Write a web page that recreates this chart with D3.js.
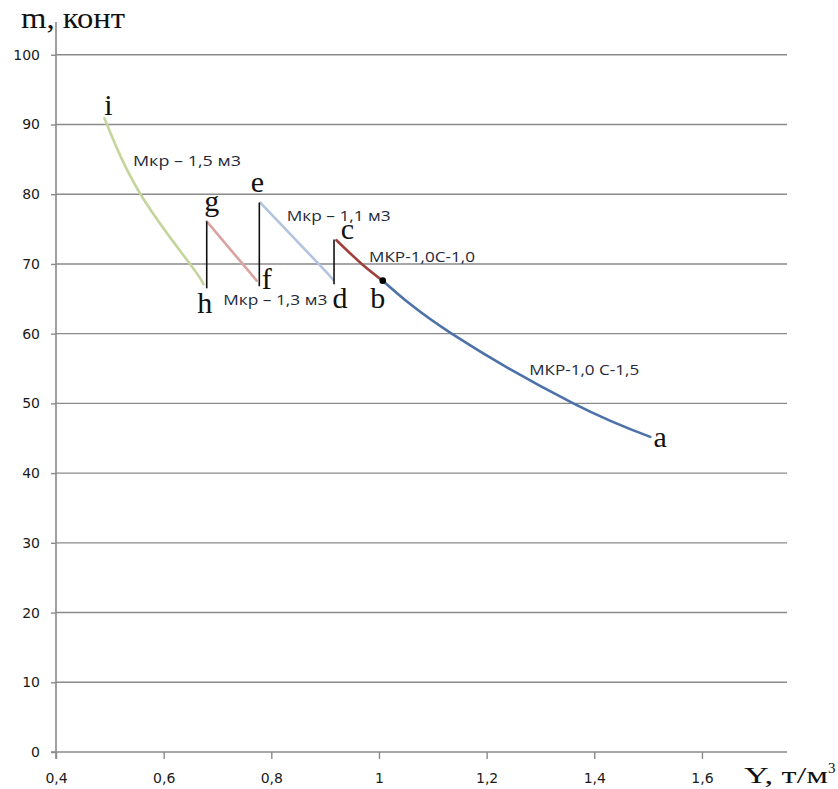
<!DOCTYPE html>
<html>
<head>
<meta charset="utf-8">
<script src="https://cdn.jsdelivr.net/npm/d3@7/dist/d3.min.js"></script>
<style>
  html, body { margin: 0; padding: 0; background: #fff; }
  svg { display: block; }
</style>
</head>
<body>
<svg id="chart" width="838" height="789"></svg>
<script>
// Axis ticks
const xTicks = [0.4, 0.6, 0.8, 1.0, 1.2, 1.4, 1.6];
const yTicks = [0, 10, 20, 30, 40, 50, 60, 70, 80, 90, 100];

// Curve segments: bulk density Y (t/m3) vs number of containers m
const curveIH_x = [0.490, 0.557, 0.649, 0.674];   // Мкр – 1,5 м3 (i → h)
const curveIH_y = [90.9, 80.0, 70.0, 67.1];
const curveGF_x = [0.680, 0.7467, 0.7728];        // Мкр – 1,3 м3 (g → f)
const curveGF_y = [76.1, 70.0, 67.6];
const curveED_x = [0.7795, 0.888, 0.915];         // Мкр – 1,1 м3 (e → d)
const curveED_y = [78.8, 70.0, 67.7];
const curveCB_x = [0.921, 0.968, 1.007];          // МКР-1,0 С-1,0 (c → b)
const curveCB_y = [73.4, 70.0, 67.6];
const curveBA_x = [1.007, 1.135, 1.361, 1.504];   // МКР-1,0 С-1,5 (b → a)
const curveBA_y = [67.6, 60.0, 50.0, 45.2];

// Vertical switch-over steps (x, y from, y to)
const stepX    = [0.680, 0.7777, 0.9165];
const stepYlow = [66.5, 66.8, 67.1];
const stepYtop = [76.1, 78.8, 73.5];

// Point letters and the values they mark
const pointNames = ["i", "g", "e", "c", "h", "f", "d", "b", "a"];
const pointX = [0.490, 0.680, 0.7777, 0.921, 0.680, 0.7728, 0.9165, 1.007, 1.504];
const pointY = [90.9, 76.1, 78.8, 73.4, 66.5, 67.6, 67.1, 67.6, 45.2];

// Curve captions
const captionText = ["Мкр – 1,5 м3", "Мкр – 1,1 м3", "Мкр – 1,3 м3", "МКР-1,0С-1,0", "МКР-1,0 С-1,5"];
const captionX = [0.543, 0.8286, 0.7108, 0.9815, 1.279];
const captionY = [84.1, 76.1, 64.1, 70.3, 54.1];

// ---- layout ----
const svg = d3.select("#chart");
const x = d3.scaleLinear().domain([0.4, 1.758]).range([56, 787]);
const y = d3.scaleLinear().domain([0, 104.7]).range([752, 22]);
const gridColor = "#8a8a8a";
const fmt = v => String(+v.toFixed(1)).replace(".", ",");

// horizontal gridlines
svg.append("g").selectAll("line").data(yTicks.filter(v => v > 0)).join("line")
  .attr("x1", x(0.4)).attr("x2", x.range()[1])
  .attr("y1", d => y(d)).attr("y2", d => y(d))
  .attr("stroke", gridColor).attr("stroke-width", 1.4);

// y axis
const yAxis = svg.append("g").attr("transform", `translate(${x(0.4)},0)`)
  .call(d3.axisLeft(y).tickValues(yTicks).tickSize(5).tickPadding(11).tickFormat(d => d));
yAxis.select(".domain").remove();
yAxis.append("line").attr("x1", 0).attr("x2", 0).attr("y1", y.range()[0] + 7).attr("y2", y.range()[1])
  .attr("stroke", gridColor).attr("stroke-width", 1.6);

// x axis
const xAxis = svg.append("g").attr("transform", `translate(0,${y(0)})`)
  .call(d3.axisBottom(x).tickValues(xTicks).tickSize(7).tickPadding(14).tickFormat(fmt));
xAxis.select(".domain").remove();
xAxis.append("line").attr("x1", x.range()[0] - 5).attr("x2", x.range()[1]).attr("y1", 0).attr("y2", 0)
  .attr("stroke", gridColor).attr("stroke-width", 1.6);

[yAxis, xAxis].forEach(g => {
  g.selectAll(".tick line").attr("stroke", gridColor).attr("stroke-width", 1.4);
  g.selectAll(".tick text").attr("fill", "#1a1a1a").attr("font-family", "DejaVu Sans, Verdana, sans-serif")
    .attr("font-size", 14);
});

// curves
const line = d3.line().x(d => x(d[0])).y(d => y(d[1])).curve(d3.curveNatural);
const curves = [
  { xs: curveIH_x, ys: curveIH_y, color: "#c3d69b" },
  { xs: curveGF_x, ys: curveGF_y, color: "#dba3a2" },
  { xs: curveED_x, ys: curveED_y, color: "#b3c4e0" },
  { xs: curveCB_x, ys: curveCB_y, color: "#a0403d" },
  { xs: curveBA_x, ys: curveBA_y, color: "#4d72aa" }
];
svg.append("g").selectAll("path").data(curves).join("path")
  .attr("d", c => line(c.xs.map((v, i) => [v, c.ys[i]])))
  .attr("fill", "none").attr("stroke", c => c.color).attr("stroke-width", 2.6)
  .attr("stroke-linecap", "round");

// vertical steps
svg.append("g").selectAll("line").data(stepX).join("line")
  .attr("x1", d => x(d)).attr("x2", d => x(d))
  .attr("y1", (d, i) => y(stepYlow[i])).attr("y2", (d, i) => y(stepYtop[i]))
  .attr("stroke", "#111").attr("stroke-width", 1.6);

// junction point b
svg.append("circle").attr("cx", x(pointX[7])).attr("cy", y(pointY[7])).attr("r", 3.3).attr("fill", "#000");

// point letters
const letterOffset = {
  i: [4, -3], g: [5, -10], e: [-2, -11], c: [11, -1], h: [-2, 25],
  f: [10, 8], d: [6, 24], b: [-5, 27], a: [10, 10]
};
svg.append("g").selectAll("text").data(pointNames).join("text")
  .attr("x", (d, i) => x(pointX[i]) + letterOffset[d][0])
  .attr("y", (d, i) => y(pointY[i]) + letterOffset[d][1])
  .attr("text-anchor", "middle")
  .attr("font-family", "Liberation Serif, Times New Roman, serif").attr("font-size", 30)
  .attr("fill", "#111").text(d => d);

// curve captions (widths follow the original lettering)
const captionWidth = [108, 104, 104, 106, 110];
svg.append("g").selectAll("text").data(captionText).join("text")
  .attr("x", (d, i) => x(captionX[i])).attr("y", (d, i) => y(captionY[i]))
  .attr("font-family", "Open Sans, sans-serif").attr("font-size", 14)
  .attr("textLength", (d, i) => captionWidth[i]).attr("lengthAdjust", "spacingAndGlyphs")
  .attr("fill", "#1e2a3a").text(d => d);

// axis titles
svg.append("text").attr("x", 21).attr("y", 28)
  .attr("font-family", "Liberation Serif, Times New Roman, serif").attr("font-size", 29)
  .attr("textLength", 104).attr("lengthAdjust", "spacingAndGlyphs")
  .attr("fill", "#111").text("m, конт");
const yt = svg.append("text").attr("x", 744).attr("y", 783)
  .attr("font-family", "Liberation Serif, Times New Roman, serif").attr("font-size", 24)
  .attr("fill", "#111");
yt.append("tspan").attr("textLength", 84).attr("lengthAdjust", "spacingAndGlyphs").text("Y, т/м");
yt.append("tspan").attr("font-size", 15).attr("dy", -10).text("3");
</script>
</body>
</html>
